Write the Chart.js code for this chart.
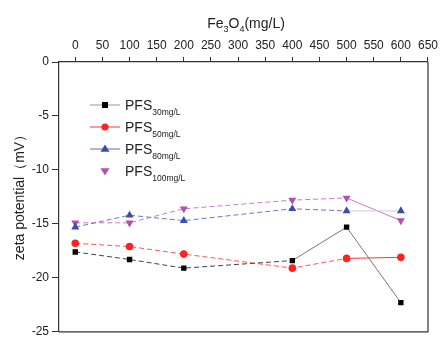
<!DOCTYPE html>
<html>
<head>
<meta charset="utf-8">
<script src="https://cdn.jsdelivr.net/npm/chart.js@4"></script>
<style>
  html, body { margin: 0; padding: 0; background: #fff; }
  #wrap { width: 442px; height: 342px; }
</style>
</head>
<body>
<div id="wrap"><canvas id="myChart" width="442" height="342"></canvas></div>
<script>
// ---------------- data ----------------
const fe3o4 = [0, 100, 200, 400, 500, 600];
const pfs30 = [-17.6, -18.3, -19.1, -18.4, -15.3, -22.3];
const pfs50 = [-16.8, -17.1, -17.8, -19.1, -18.2, -18.1];
const pfs80 = [-15.3, -14.2, -14.7, -13.6, -13.8, -13.8];
const pfs100 = [-14.9, -14.9, -13.6, -12.8, -12.6, -14.7];
const xTicks = [0, 50, 100, 150, 200, 250, 300, 350, 400, 450, 500, 550, 600, 650];
const yTicks = [0, -5, -10, -15, -20, -25];
const seriesSubs = ['30mg/L', '50mg/L', '80mg/L', '100mg/L'];

const FONT = '"Liberation Sans", Arial, sans-serif';
const TXT = '#222';

const pts = (ys) => fe3o4.map((x, i) => ({ x: x, y: ys[i] }));

// dashed up to index `solidFrom`, solid after
const makeSeg = (solidFrom, dashColor, solidColor) => ({
    borderDash: c => c.p0DataIndex >= solidFrom ? [] : [5, 3],
    borderColor: c => c.p0DataIndex >= solidFrom ? solidColor : dashColor
});

const series = [
    { data: pfs30, color: '#000', style: 'rect', radius: 3.8, rot: 0, seg: makeSeg(3, '#444', '#777'), legendLine: '#999' },
    { data: pfs50, color: '#f22', style: 'circle', radius: 3.8, rot: 0, seg: makeSeg(4, '#f55', '#f33'), legendLine: '#f33' },
    { data: pfs80, color: '#3a4cb0', style: 'triangle', radius: 4.6, rot: 0, seg: makeSeg(4, '#6a78c4', '#c8cbe8'), legendLine: '#6a6ab8' },
    { data: pfs100, color: '#b050b0', style: 'triangle', radius: 4.6, rot: 180, seg: makeSeg(4, '#c77cc7', '#c77cc7'), legendLine: null }
];

// ---------------- legend + titles + frame ----------------
const drawMarker = (ctx, s, x, y) => {
    ctx.save();
    ctx.fillStyle = s.color;
    ctx.beginPath();
    if (s.style === 'rect') {
        ctx.rect(x - 3, y - 3, 6, 6);
    } else if (s.style === 'circle') {
        ctx.arc(x, y, 3.6, 0, Math.PI * 2);
    } else {
        const r = 4.5;
        const d = s.rot === 180 ? -1 : 1;
        ctx.moveTo(x, y - d * r);
        ctx.lineTo(x + r, y + d * r * 0.6);
        ctx.lineTo(x - r, y + d * r * 0.6);
        ctx.closePath();
    }
    ctx.fill();
    ctx.restore();
};

const extras = {
    id: 'extras',
    afterDraw(chart) {
        const ctx = chart.ctx;
        const a = chart.chartArea;
        ctx.save();
        // right + bottom frame
        ctx.strokeStyle = '#333';
        ctx.lineWidth = 1.2;
        ctx.beginPath();
        ctx.moveTo(a.right, a.top);
        ctx.lineTo(a.right, a.bottom);
        ctx.lineTo(a.left, a.bottom);
        ctx.stroke();

        // legend
        ctx.textBaseline = 'alphabetic';
        ctx.textAlign = 'left';
        series.forEach((s, i) => {
            const y = 105 + i * 22;
            if (s.legendLine) {
                ctx.strokeStyle = s.legendLine;
                ctx.lineWidth = 1;
                ctx.beginPath();
                ctx.moveTo(90, y);
                ctx.lineTo(120, y);
                ctx.stroke();
            }
            drawMarker(ctx, s, 105, y);
            ctx.fillStyle = TXT;
            ctx.font = '14px ' + FONT;
            ctx.fillText('PFS', 125, y + 5);
            const w = ctx.measureText('PFS').width;
            ctx.font = '8.5px ' + FONT;
            ctx.fillText(seriesSubs[i], 125 + w, y + 10);
        });

        // top axis title Fe3O4(mg/L)
        const parts = [['Fe', 14, 0], ['3', 9, 4], ['O', 14, 0], ['4', 9, 4], ['(mg/L)', 14, 0]];
        let total = 0;
        parts.forEach(p => { ctx.font = p[1] + 'px ' + FONT; total += ctx.measureText(p[0]).width; });
        let x = 246 - total / 2;
        ctx.fillStyle = TXT;
        parts.forEach(p => {
            ctx.font = p[1] + 'px ' + FONT;
            ctx.fillText(p[0], x, 28 + p[2]);
            x += ctx.measureText(p[0]).width;
        });

        // y axis title
        ctx.translate(20, 194);
        ctx.rotate(-Math.PI / 2);
        ctx.textAlign = 'center';
        ctx.textBaseline = 'middle';
        ctx.font = '14px ' + FONT;
        ctx.fillText('zeta potential（mV）', 0, 0);
        ctx.restore();
    }
};

// ---------------- chart ----------------
const ctx = document.getElementById('myChart');
new Chart(ctx, {
    type: 'scatter',
    data: {
        datasets: series.map((s, i) => ({
            label: 'PFS ' + seriesSubs[i],
            data: pts(s.data),
            showLine: true,
            borderWidth: 1,
            borderColor: s.color,
            backgroundColor: s.color,
            pointBackgroundColor: s.color,
            pointBorderColor: s.color,
            pointBorderWidth: 0,
            pointStyle: s.style,
            pointRadius: s.radius,
            pointRotation: s.rot,
            segment: s.seg
        }))
    },
    options: {
        responsive: false,
        animation: false,
        devicePixelRatio: 1,
        layout: { padding: { left: 0, top: 0, right: 10, bottom: 3 } },
        plugins: { legend: { display: false }, tooltip: { enabled: false } },
        scales: {
            x: {
                type: 'linear',
                position: 'top',
                min: -30,
                max: 650,
                afterBuildTicks: sc => { sc.ticks = xTicks.map(v => ({ value: v })); },
                afterFit: sc => { sc.height = 62; },
                ticks: { color: TXT, font: { family: FONT, size: 12 }, padding: 4, maxRotation: 0, autoSkip: false },
                grid: { drawOnChartArea: false, drawTicks: true, tickLength: 5, color: '#333' },
                border: { display: true, color: '#333', width: 1.2 }
            },
            y: {
                min: -25,
                max: 0,
                afterBuildTicks: sc => { sc.ticks = yTicks.map(v => ({ value: v })); },
                afterFit: sc => { sc.width = 59; },
                ticks: { color: TXT, font: { family: FONT, size: 12 }, padding: 3 },
                grid: { drawOnChartArea: false, drawTicks: true, tickLength: 7, color: '#333' },
                border: { display: true, color: '#333', width: 1.2 }
            }
        }
    },
    plugins: [extras]
});
</script>
</body>
</html>
